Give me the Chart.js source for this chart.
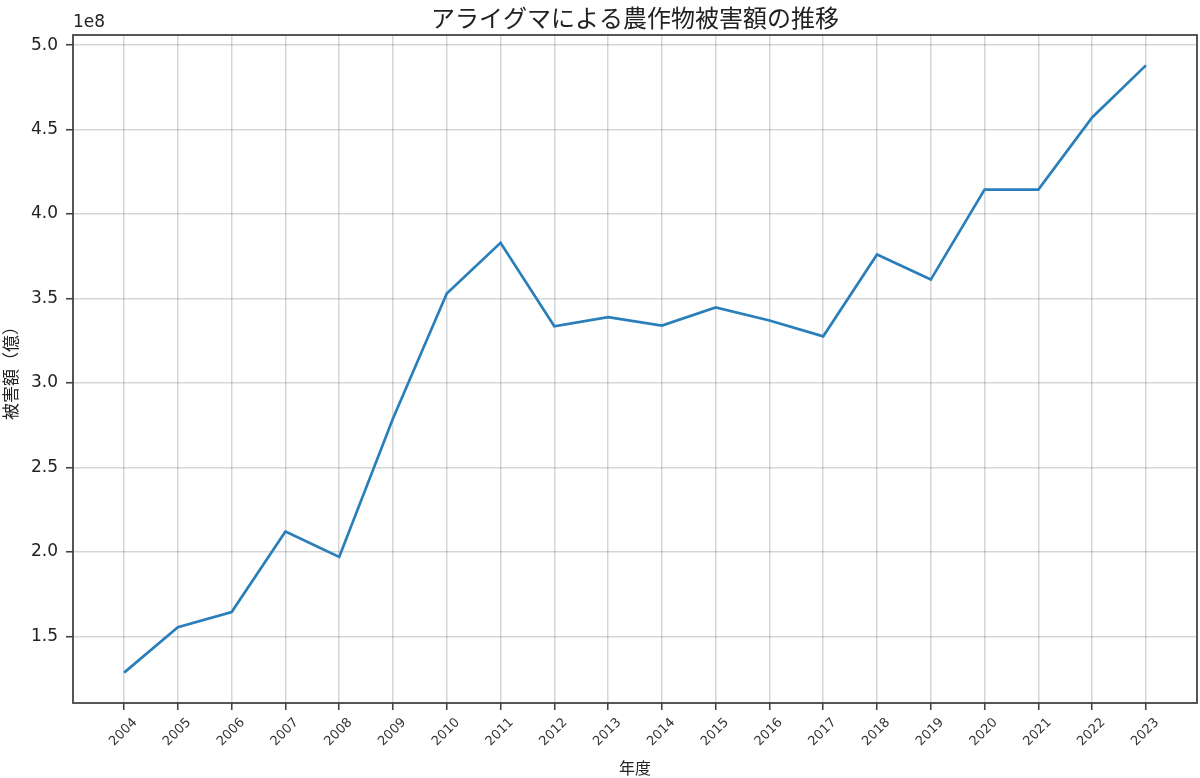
<!DOCTYPE html>
<html>
<head>
<meta charset="utf-8">
<script src="https://cdn.jsdelivr.net/npm/chart.js@4.4.1/dist/chart.umd.min.js"></script>
<style>
  html, body { margin: 0; padding: 0; background: #ffffff; }
  #wrap { width: 1200px; height: 778px; }
</style>
</head>
<body>
<div id="wrap"><canvas id="c" width="1200" height="778"></canvas></div>
<script>
const years = [2004, 2005, 2006, 2007, 2008, 2009, 2010, 2011, 2012, 2013, 2014, 2015, 2016, 2017, 2018, 2019, 2020, 2021, 2022, 2023];
const damage = [1.285e8, 1.554e8, 1.644e8, 2.12e8, 1.97e8, 2.79e8, 3.53e8, 3.83e8, 3.335e8, 3.39e8, 3.34e8, 3.447e8, 3.37e8, 3.276e8, 3.76e8, 3.612e8, 4.145e8, 4.145e8, 4.572e8, 4.88e8];
const yTickValues = [1.5e8, 2.0e8, 2.5e8, 3.0e8, 3.5e8, 4.0e8, 4.5e8, 5.0e8];
const titleText = 'アライグマによる農作物被害額の推移';
const xTitle = '年度';
const yTitle = '被害額（億）';
const offsetText = '1e8';

const TICK_FONT = "'DejaVu Sans', sans-serif";
const CJK_FONT = "'Noto Sans CJK JP', 'Noto Sans', sans-serif";

const framePlugin = {
  id: 'frame',
  afterDraw(chart) {
    const { ctx, chartArea: a } = chart;
    ctx.save();
    ctx.strokeStyle = '#444';
    ctx.lineWidth = 1.8;
    ctx.strokeRect(a.left, a.top, a.right - a.left, a.bottom - a.top);
    ctx.fillStyle = '#222';
    ctx.font = "17px " + TICK_FONT;
    ctx.textAlign = 'left';
    ctx.textBaseline = 'alphabetic';
    ctx.fillText(offsetText, a.left, 27);
    ctx.restore();
  }
};

new Chart(document.getElementById('c'), {
  type: 'line',
  data: {
    datasets: [{
      data: years.map((y, i) => ({ x: y, y: damage[i] })),
      borderColor: '#2a7fba',
      borderWidth: 2.7,
      pointRadius: 0,
      tension: 0,
      fill: false
    }]
  },
  options: {
    responsive: false,
    animation: false,
    devicePixelRatio: 1,
    layout: { padding: { left: 0, right: 3, top: 0, bottom: 0 } },
    plugins: {
      legend: { display: false },
      tooltip: { enabled: false },
      title: {
        display: true,
        text: titleText,
        fullSize: false,
        color: '#222',
        font: { family: CJK_FONT, size: 24, weight: 'normal', lineHeight: 1.2 },
        padding: { top: 3, bottom: 3.2 }
      }
    },
    scales: {
      x: {
        type: 'linear',
        min: 2003.05,
        max: 2023.95,
        afterBuildTicks: (s) => { s.ticks = years.map(v => ({ value: v })); },
        afterFit: (s) => { s.height = 75; s.paddingLeft = 0; s.paddingRight = 0; },
        border: { display: false },
        grid: {
          color: 'rgba(0,0,0,0.16)',
          lineWidth: 1.5,
          drawTicks: true,
          tickLength: 7,
          tickColor: '#444',
          tickWidth: 1.6
        },
        ticks: {
          autoSkip: false,
          minRotation: 45,
          maxRotation: 45,
          padding: 5,
          labelOffset: 11,
          color: '#333',
          font: { family: TICK_FONT, size: 13 },
          callback: (v) => String(v)
        },
        title: {
          display: true,
          text: xTitle,
          color: '#222',
          font: { family: CJK_FONT, size: 16, lineHeight: 1.2 },
          padding: { top: 0, bottom: 0 }
        }
      },
      y: {
        type: 'linear',
        min: 1.105e8,
        max: 5.06e8,
        afterBuildTicks: (s) => { s.ticks = yTickValues.map(v => ({ value: v })); },
        afterFit: (s) => { s.width = 73; s.paddingTop = 0; s.paddingBottom = 0; },
        border: { display: false },
        grid: {
          color: 'rgba(0,0,0,0.16)',
          lineWidth: 1.5,
          drawTicks: true,
          tickLength: 7,
          tickColor: '#444',
          tickWidth: 1.6
        },
        ticks: {
          padding: 8,
          color: '#222',
          font: { family: TICK_FONT, size: 17 },
          callback: (v) => (v / 1e8).toFixed(1)
        },
        title: {
          display: true,
          text: yTitle,
          color: '#222',
          font: { family: CJK_FONT, size: 17, lineHeight: 1.2 },
          padding: { top: 0, bottom: 0 }
        }
      }
    }
  },
  plugins: [framePlugin]
});
</script>
</body>
</html>
